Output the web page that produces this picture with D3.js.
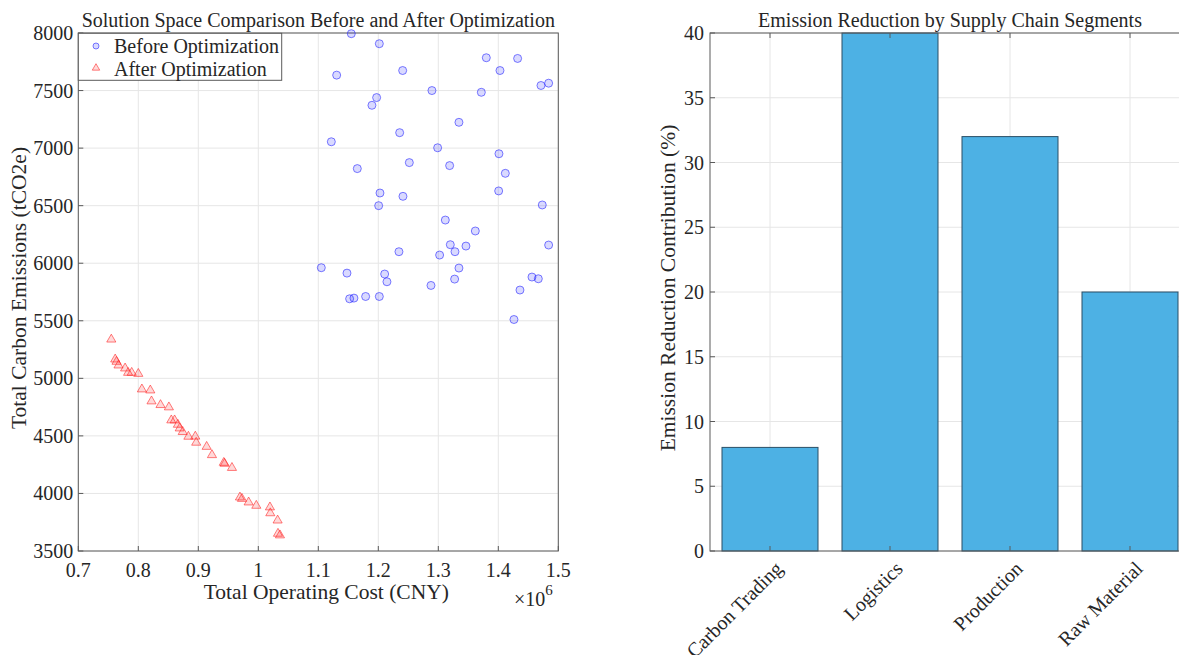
<!DOCTYPE html>
<html>
<head>
<meta charset="utf-8">
<script src="https://cdn.jsdelivr.net/npm/d3@7"></script>
<style>
    body { margin: 0; background: #fff; }
    text { font-family: "Liberation Serif", "Times New Roman", serif; fill: #262626; }
</style>
</head>
<body>
<svg id="mainSVG" width="1179" height="655"></svg>
<script>
// before optimization (cost in CNY, emissions in tCO2e)
const costBefore = [1155000, 1201700, 1130600, 1240600, 1380000, 1432200, 1402800, 1471100, 1483900, 1289400,
    1371700, 1197200, 1189400, 1334400, 1235600, 1121700, 1298900, 1401100, 1165000, 1251700,
    1318900, 1411700, 1400600, 1202800, 1241100, 1200600, 1473300, 1311700, 1361700, 1320000,
    1346100, 1327800, 1483900, 1234400, 1302200, 1105000, 1147800, 1210600, 1214400, 1334400,
    1327200, 1287800, 1456100, 1466700, 1436100, 1152200, 1159400, 1178900, 1201700, 1426100]
const emisBefore = [7994, 7907, 7634, 7674, 7785, 7779, 7674, 7544, 7564, 7500,
    7485, 7439, 7372, 7224, 7134, 7055, 7003, 6951, 6822, 6874,
    6848, 6781, 6628, 6610, 6581, 6500, 6506, 6375, 6280, 6161,
    6149, 6100, 6158, 6100, 6071, 5961, 5914, 5906, 5839, 5958,
    5862, 5807, 5880, 5865, 5767, 5691, 5697, 5711, 5711, 5511]

// after optimization
const costAfter = [755000, 761500, 763700, 767000, 778000, 783000, 789000, 800000, 806000, 820000,
    822000, 837000, 851000, 855000, 860500, 866000, 869000, 874000, 883500, 895000,
    896500, 913900, 922800, 942500, 943900, 956100, 969400, 972800, 983900, 996700,
    1019400, 1020000, 1032200, 1032800, 1036100]
const emisAfter = [5338, 5165, 5145, 5113, 5087, 5049, 5049, 5040, 4905, 4896,
    4801, 4769, 4749, 4636, 4636, 4598, 4566, 4535, 4494, 4495,
    4442, 4406, 4334, 4267, 4259, 4223, 3966, 3954, 3923, 3894,
    3880, 3829, 3766, 3651, 3637]

const costTicks = [0.7e6, 0.8e6, 0.9e6, 1.0e6, 1.1e6, 1.2e6, 1.3e6, 1.4e6, 1.5e6]
const emisTicks = [3500, 4000, 4500, 5000, 5500, 6000, 6500, 7000, 7500, 8000]

// segment contributions
const segments = ["Carbon Trading", "Logistics", "Production", "Raw Material"]
const contributions = [8, 40, 32, 20]
const pctTicks = [0, 5, 10, 15, 20, 25, 30, 35, 40]

const svg = d3.select("#mainSVG")
const axisColor = "#5a5a5a", gridColor = "#e6e6e6", tickLen = 5
const fs = "20px", labelFs = "21.5px"

// ---------- left: scatter ----------
const L = {left: 78.3, right: 558.3, top: 33, bottom: 551}
const x1 = d3.scaleLinear().domain([0.7e6, 1.5e6]).range([L.left, L.right])
const y1 = d3.scaleLinear().domain([3500, 8000]).range([L.bottom, L.top])

const g1 = svg.append("g")

g1.selectAll(".gx").data(costTicks).enter().append("line")
    .attr("x1", d => x1(d)).attr("x2", d => x1(d))
    .attr("y1", L.top).attr("y2", L.bottom)
    .attr("stroke", gridColor)
g1.selectAll(".gy").data(emisTicks).enter().append("line")
    .attr("y1", d => y1(d)).attr("y2", d => y1(d))
    .attr("x1", L.left).attr("x2", L.right)
    .attr("stroke", gridColor)

// box + inward ticks
g1.append("rect")
    .attr("x", L.left).attr("y", L.top)
    .attr("width", L.right - L.left).attr("height", L.bottom - L.top)
    .attr("fill", "none").attr("stroke", axisColor)

g1.selectAll(".tx").data(costTicks).enter().append("line")
    .attr("x1", d => x1(d)).attr("x2", d => x1(d))
    .attr("y1", L.bottom).attr("y2", L.bottom - tickLen)
    .attr("stroke", axisColor)
g1.selectAll(".ty").data(emisTicks).enter().append("line")
    .attr("y1", d => y1(d)).attr("y2", d => y1(d))
    .attr("x1", L.left).attr("x2", L.left + tickLen)
    .attr("stroke", axisColor)

g1.selectAll(".lx").data(costTicks).enter().append("text")
    .attr("x", d => x1(d)).attr("y", L.bottom + 26)
    .attr("text-anchor", "middle")
    .style("font-size", fs)
    .text(d => d3.format("~g")(d / 1e6))
g1.selectAll(".ly").data(emisTicks).enter().append("text")
    .attr("x", L.left - 5).attr("y", d => y1(d) + 7)
    .attr("text-anchor", "end")
    .style("font-size", fs)
    .text(d => d)

g1.append("text")
    .attr("x", (L.left + L.right) / 2 + 8).attr("y", 599)
    .attr("text-anchor", "middle")
    .style("font-size", labelFs)
    .text("Total Operating Cost (CNY)")

const expo = g1.append("text")
    .attr("x", 514).attr("y", 606)
    .style("font-size", fs)
expo.append("tspan").text("\u00d710")
expo.append("tspan").attr("dy", -11).style("font-size", "15px").text("6")

g1.append("text")
    .attr("transform", `translate(26,${(L.top + L.bottom) / 2 - 4}) rotate(-90)`)
    .attr("text-anchor", "middle")
    .style("font-size", labelFs)
    .text("Total Carbon Emissions (tCO2e)")

g1.append("text")
    .attr("x", (L.left + L.right) / 2).attr("y", 27)
    .attr("text-anchor", "middle")
    .style("font-size", fs)
    .text("Solution Space Comparison Before and After Optimization")

const tri = d3.symbol().type(d3.symbolTriangle).size(36)

g1.selectAll(".before").data(costBefore).enter().append("circle")
    .attr("cx", d => x1(d))
    .attr("cy", (d, i) => y1(emisBefore[i]))
    .attr("r", 4)
    .attr("fill", "rgba(0,0,255,0.15)")
    .attr("stroke", "rgba(40,40,255,0.6)")
    .attr("stroke-width", 1)

g1.selectAll(".after").data(costAfter).enter().append("path")
    .attr("d", tri)
    .attr("transform", (d, i) => `translate(${x1(d)},${y1(emisAfter[i])})`)
    .attr("fill", "rgba(255,0,0,0.15)")
    .attr("stroke", "rgba(255,40,40,0.6)")
    .attr("stroke-width", 1)

// legend
const lg = g1.append("g")
lg.append("rect")
    .attr("x", 78.3).attr("y", 33.3).attr("width", 203.4).attr("height", 47)
    .attr("fill", "#fff").attr("stroke", axisColor)
lg.append("circle").attr("cx", 96).attr("cy", 46).attr("r", 3)
    .attr("fill", "rgba(0,0,255,0.15)").attr("stroke", "rgba(40,40,255,0.6)")
lg.append("path").attr("d", d3.symbol().type(d3.symbolTriangle).size(24))
    .attr("transform", "translate(96,68)")
    .attr("fill", "rgba(255,0,0,0.15)").attr("stroke", "rgba(255,40,40,0.6)")
lg.append("text").attr("x", 114).attr("y", 53).style("font-size", fs).text("Before Optimization")
lg.append("text").attr("x", 114).attr("y", 76).style("font-size", fs).text("After Optimization")

// ---------- right: bars ----------
const R = {left: 710, right: 1190, top: 33, bottom: 551}
const x2 = d3.scaleLinear().domain([0.5, 4.5]).range([R.left, R.right])
const y2 = d3.scaleLinear().domain([0, 40]).range([R.bottom, R.top])
const idx = segments.map((s, i) => i + 1)

const g2 = svg.append("g")

g2.selectAll(".gx").data(idx).enter().append("line")
    .attr("x1", d => x2(d)).attr("x2", d => x2(d))
    .attr("y1", R.top).attr("y2", R.bottom)
    .attr("stroke", gridColor)
g2.selectAll(".gy").data(pctTicks).enter().append("line")
    .attr("y1", d => y2(d)).attr("y2", d => y2(d))
    .attr("x1", R.left).attr("x2", R.right)
    .attr("stroke", gridColor)

g2.selectAll(".bar").data(contributions).enter().append("rect")
    .attr("x", (d, i) => x2(idx[i] - 0.4))
    .attr("width", (d, i) => x2(idx[i] + 0.4) - x2(idx[i] - 0.4))
    .attr("y", d => y2(d))
    .attr("height", d => y2(0) - y2(d))
    .attr("fill", "#4db1e4")
    .attr("stroke", "#2b4f66")
    .attr("stroke-width", 1)

g2.append("rect")
    .attr("x", R.left).attr("y", R.top)
    .attr("width", R.right - R.left).attr("height", R.bottom - R.top)
    .attr("fill", "none").attr("stroke", axisColor)

g2.selectAll(".tx").data(idx).enter().append("line")
    .attr("x1", d => x2(d)).attr("x2", d => x2(d))
    .attr("y1", R.bottom).attr("y2", R.bottom - tickLen)
    .attr("stroke", axisColor)
g2.selectAll(".tx2").data(idx).enter().append("line")
    .attr("x1", d => x2(d)).attr("x2", d => x2(d))
    .attr("y1", R.top).attr("y2", R.top + tickLen)
    .attr("stroke", axisColor)
g2.selectAll(".ty").data(pctTicks).enter().append("line")
    .attr("y1", d => y2(d)).attr("y2", d => y2(d))
    .attr("x1", R.left).attr("x2", R.left + tickLen)
    .attr("stroke", axisColor)

g2.selectAll(".ly").data(pctTicks).enter().append("text")
    .attr("x", R.left - 6).attr("y", d => y2(d) + 7)
    .attr("text-anchor", "end")
    .style("font-size", fs)
    .text(d => d)

g2.selectAll(".lx").data(segments).enter().append("text")
    .attr("transform", (d, i) => `translate(${x2(idx[i]) + 4},${R.bottom + 9}) rotate(-45)`)
    .attr("text-anchor", "end")
    .attr("dy", "0.7em")
    .style("font-size", fs)
    .text(d => d)

g2.append("text")
    .attr("transform", `translate(675,${(R.top + R.bottom) / 2 - 4}) rotate(-90)`)
    .attr("text-anchor", "middle")
    .style("font-size", labelFs)
    .text("Emission Reduction Contribution (%)")

g2.append("text")
    .attr("x", (R.left + R.right) / 2).attr("y", 27)
    .attr("text-anchor", "middle")
    .style("font-size", fs)
    .text("Emission Reduction by Supply Chain Segments")
</script>
</body>
</html>
